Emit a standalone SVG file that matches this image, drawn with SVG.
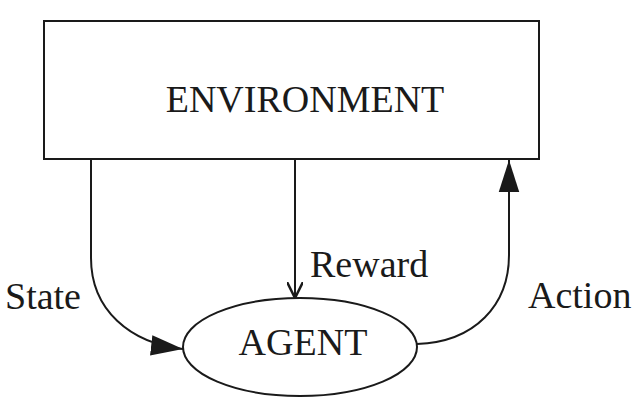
<svg xmlns="http://www.w3.org/2000/svg" width="644" height="410" viewBox="0 0 644 410">
  <style>
    .shape { fill: #fff; stroke: #1a1a1a; stroke-width: 2; }
    .wire { fill: none; stroke: #1a1a1a; stroke-width: 2; }
    .label { font-family: "Liberation Serif", "Times New Roman", serif; font-size: 38px; fill: #1a1a1a; }
  </style>
  <defs>
    <marker id="solid" viewBox="0 0 10 10" refX="10" refY="5" markerWidth="32" markerHeight="32" markerUnits="userSpaceOnUse" orient="auto">
      <path d="M0,1.8 L10,5 L0,8.2 Z" fill="#1a1a1a"/>
    </marker>
    <marker id="open" viewBox="0 0 10 10" refX="10" refY="5" markerWidth="16" markerHeight="16" markerUnits="userSpaceOnUse" orient="auto">
      <path d="M0,0 L10,5 L0,10" fill="none" stroke="#1a1a1a" stroke-width="1.6"/>
    </marker>
  </defs>

  <g id="environment">
    <rect class="shape" x="44" y="21" width="495" height="138"/>
    <text class="label" x="305" y="112" text-anchor="middle">ENVIRONMENT</text>
  </g>

  <g id="agent">
    <ellipse class="shape" cx="300" cy="347" rx="117" ry="49"/>
    <text class="label" x="303" y="355" text-anchor="middle">AGENT</text>
  </g>

  <g id="connectors">
    <path class="wire" d="M91,159 L91,258 C91,310 130,343 183,349" marker-end="url(#solid)"/>
    <path class="wire" d="M295,159 L295,298" marker-end="url(#open)"/>
    <path class="wire" d="M417,344 C475,342 509,305 509,255 L509,160" marker-end="url(#solid)"/>
    <text class="label" x="5" y="309">State</text>
    <text class="label" x="310" y="277">Reward</text>
    <text class="label" x="528" y="308">Action</text>
  </g>
</svg>
